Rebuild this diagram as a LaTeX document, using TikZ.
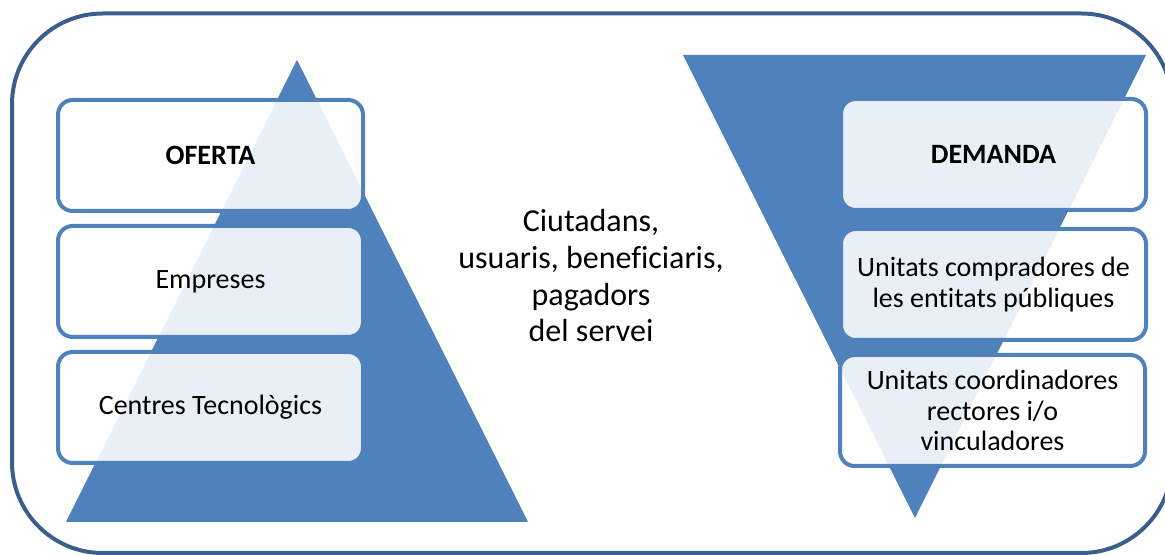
\documentclass[tikz,border=0pt]{standalone}
\usepackage{fontspec}
\setmainfont{Carlito}[Ligatures=NoCommon]
\definecolor{triblue}{HTML}{4F81BD}
\definecolor{frameblue}{HTML}{3B5F8D}

\begin{document}
\begin{tikzpicture}[x=0.75pt, y=-0.75pt,
    box/.style={draw=triblue, line width=3pt, fill=white, fill opacity=0.88, text opacity=1,
        rounded corners=11pt, minimum width=228.75pt, minimum height=83.25pt,
        align=center, inner sep=2pt, font=\fontsize{21}{23}\selectfont},
    boxtitle/.style={box, font=\fontsize{21}{23}\selectfont\bfseries}]
    \useasboundingbox (0,0) rectangle (1165,555);

    % marc exterior
    \draw[frameblue, line width=3pt, rounded corners=68pt] (12,13.5) rectangle (1172,553);

    \coordinate (LA) at (297,60);
    \coordinate (LB) at (66,522);
    \coordinate (LC) at (528,522);
    \coordinate (RA) at (683,55);
    \coordinate (RB) at (1146,55);
    \coordinate (RC) at (915,518);

    \fill[triblue] (LA) -- (LB) -- (LC) -- cycle;
    \fill[triblue] (RA) -- (RB) -- (RC) -- cycle;

    % oferta
    \node[boxtitle] (oferta)   at (210.5,155.5) {OFERTA};
    \node[box]      (empreses) at (210.5,281.5) {Empreses};
    \node[box]      (centres)  at (210.5,407.5) {Centres Tecnològics};

    % demanda
    \node[boxtitle] (demanda)      at (993.5,154.5) {DEMANDA};
    \node[box]      (compradores)  at (993.5,284.5) {Unitats compradores de\\les entitats públiques};
    \node[box]      (coordinadores) at (992.5,410.5) {Unitats coordinadores\\rectores i/o\\vinculadores};

    \node[align=center, font=\fontsize{24}{27.5}\selectfont] (ciutadans) at (591,276)
        {Ciutadans,\\usuaris, beneficiaris,\\pagadors\\del servei};
\end{tikzpicture}
\end{document}
